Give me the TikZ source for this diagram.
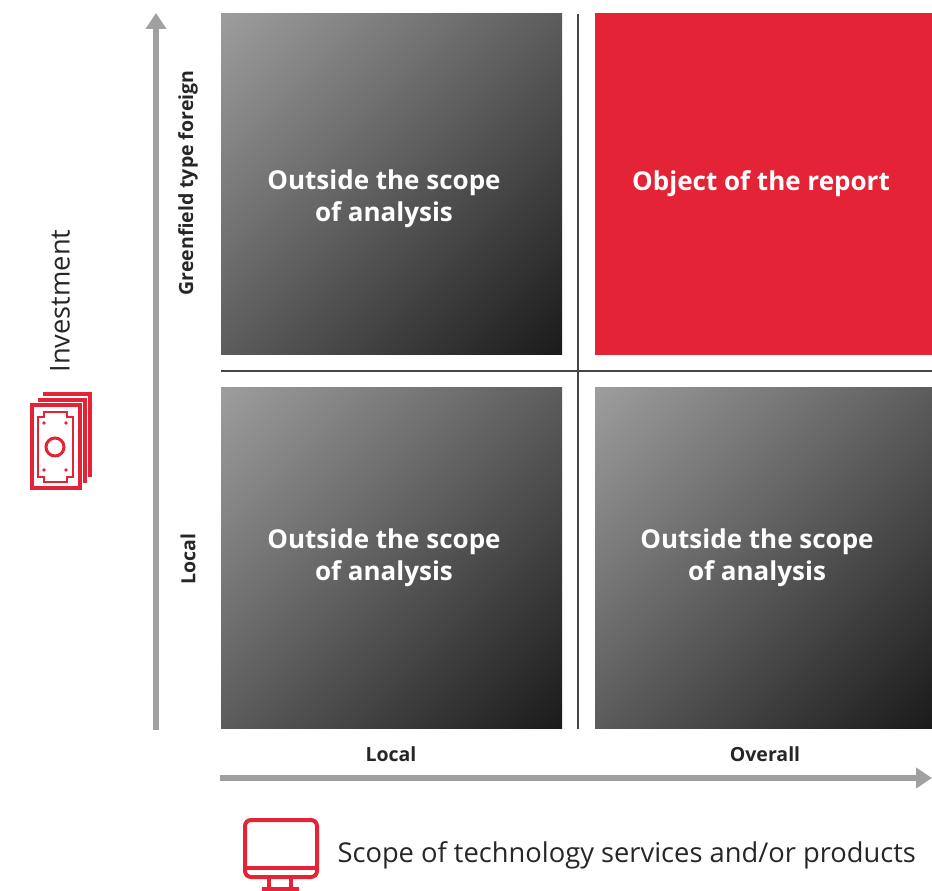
\documentclass[tikz,border=0pt]{standalone}
\usepackage{fontspec}
\setmainfont{Open Sans}
\usetikzlibrary{arrows.meta}
\definecolor{boxlight}{RGB}{162,162,162}
\definecolor{boxdark}{RGB}{22,22,22}
\definecolor{reportred}{RGB}{228,35,54}
\definecolor{axisgray}{RGB}{160,160,160}
\definecolor{rulegray}{RGB}{70,70,70}
\pgfdeclareverticalshading{quadshade}{100bp}{color(0bp)=(boxdark);
  color(12bp)=(boxdark); color(88bp)=(boxlight); color(100bp)=(boxlight)}
\tikzset{
  quad/.style={minimum width=341pt,minimum height=341pt,inner sep=0pt},
  grayquad/.style={quad,shading=quadshade,shading angle=45},
  redquad/.style={quad,fill=reportred},
  quadtext/.style={text=white,align=center,
    font=\bfseries\fontsize{26}{32}\selectfont},
  axislabel/.style={text=black!85,font=\bfseries\fontsize{19.5}{22}\selectfont},
  bigtitle/.style={text=black!85,font=\fontsize{27.3}{30}\selectfont},
  bigaxis/.style={draw=axisgray,line width=6.5pt,
    -{Triangle[length=16pt,width=20pt]}},
  divider/.style={draw=rulegray,line width=1.1pt},
  icon/.style={draw=reportred,line width=3.3pt}
}
\begin{document}
\begin{tikzpicture}[x=1pt,y=-1pt]
  \useasboundingbox (0,0) rectangle (932,891);
  % the four quadrants
  \node[grayquad] (tl) at (391.5,184) {};
  \node[redquad,minimum width=337pt] (tr) at (763.5,184) {};
  \node[grayquad] (bl) at (391.5,557.5) {};
  \node[grayquad,minimum width=337pt] (br) at (763.5,557.5) {};
  \node[quadtext] (tlt) at (384,199) {Outside the scope\\of analysis};
  \node[quadtext] (trt) at (761,184) {Object of the report};
  \node[quadtext] (blt) at (384,558) {Outside the scope\\of analysis};
  \node[quadtext] (brt) at (757,558) {Outside the scope\\of analysis};
  % dividers
  \coordinate (vtop) at (578,14);
  \coordinate (vbot) at (578,729);
  \coordinate (hleft) at (221,371);
  \coordinate (hright) at (932,371);
  \draw[divider] (vtop) -- (vbot);
  \draw[divider] (hleft) -- (hright);
  % axes
  \coordinate (ya) at (156,730);
  \coordinate (yb) at (156,13);
  \coordinate (xa) at (220,778);
  \coordinate (xb) at (932,778);
  \draw[bigaxis] (ya) -- (yb);
  \draw[bigaxis] (xa) -- (xb);
  % axis labels
  \node[axislabel,rotate=90] (yhigh) at (188,183) {Greenfield type foreign};
  \node[axislabel,rotate=90] (ylow) at (188,559) {Local};
  \node[axislabel] (xlow) at (391,754) {Local};
  \node[axislabel] (xhigh) at (765,754) {Overall};
  \node[bigtitle,rotate=90] (ytitle) at (60,301) {Investment};
  \node[bigtitle,anchor=west] (xtitle) at (334,855)
    {Scope of technology services and/or products};
  % money icon
  \draw[icon] (43,394) -- (90,394) -- (90,477);
  \draw[icon] (38,400) -- (85,400) -- (85,483);
  \draw[icon] (32,405) rectangle (80,488);
  \draw[icon,line width=2.8pt] (44,412) -- (67,412) -- (67,417) -- (73,417)
    -- (73,477) -- (67,477) -- (67,482) -- (44,482) -- (44,477) -- (38,477)
    -- (38,417) -- (44,417) -- cycle;
  \draw[icon,line width=3pt] (55,447) circle (9);
  \foreach \px/\py in {44/423,66/423,44/470,66/470}
    \fill[reportred] (\px,\py) circle (1.9);
  % screen icon
  \draw[icon,line width=4pt,rounded corners=6pt] (245,820) rectangle (317,877);
  \draw[icon,line width=4pt] (245,868) -- (317,868);
  \draw[icon,line width=4pt] (269,877) -- (269,887);
  \draw[icon,line width=4pt] (291,877) -- (291,887);
  \draw[icon,line width=4pt] (262,889) -- (299,889);
\end{tikzpicture}
\end{document}
